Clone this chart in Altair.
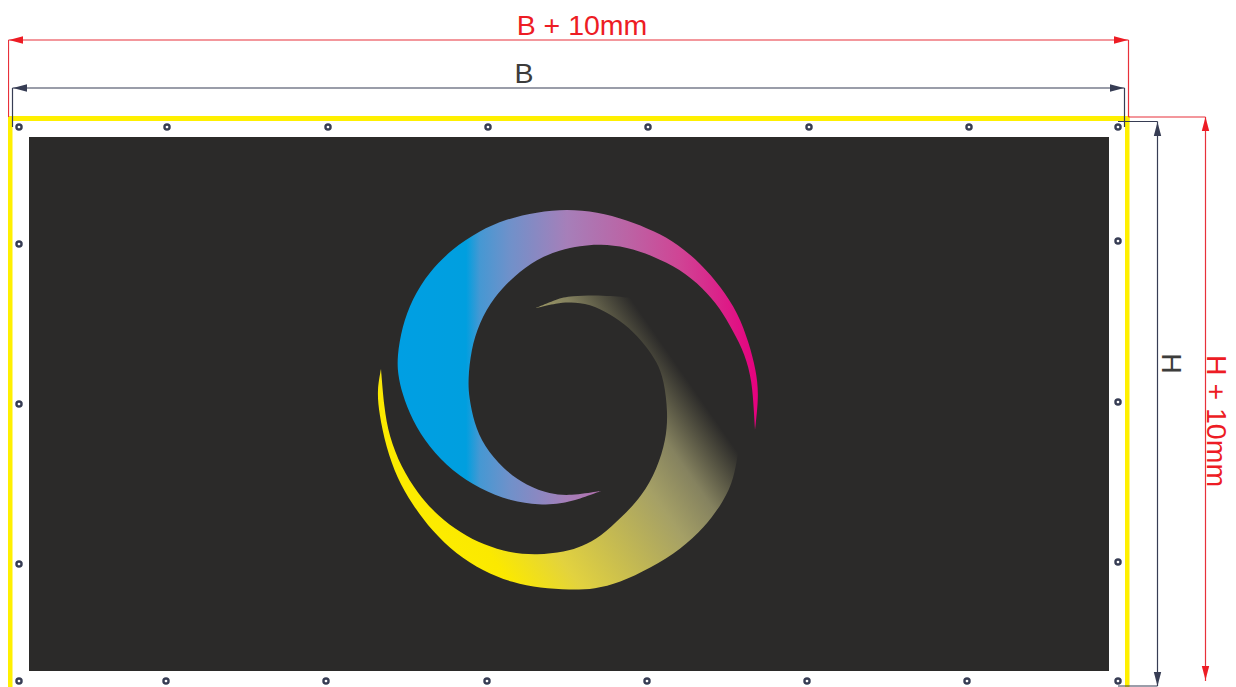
import altair as alt
import pandas as pd

# ---- crescent outlines (image pixels) ----
blue_x = [755,755,755,759,756,749,738,721,701,678,654,627,597,567,537,506,479,452,429,412,402,397,398,402,412,429,452,480,510,540,560,580,601,601,601,
          570,550,527,503,484,474,469,468,471,479,494,514,537,560,580,600,627,653,680,703,720,733,745,752,754,755,755,755]
blue_y = [430,430,430,395,370,343,313,287,264,244,231,220,212,209,212,219,231,249,272,299,327,357,375,393,420,447,471,489,501,505,504,499,491,491,491,
          496,494,486,469,446,423,397,380,350,323,297,276,259,250,246,244,247,256,269,288,308,331,354,381,413,430,430,430]

gold_x = [381,381,381,377,379,386,397,412,432,456,483,513,540,570,595,619,651,681,704,724,734,738,738,738,700,665,633,633,633,603,570,557,536,536,536,
          557,570,590,610,629,646,657,664,668,666,657,642,622,600,583,565,537,510,484,461,438,418,401,389,384,381,381,381]
gold_y = [369,369,369,390,413,447,478,504,531,554,571,583,588,590,589,583,568,549,528,501,478,453,453,453,390,345,298,298,298,295,296,299,308,308,308,
          303,302,304,314,327,346,362,380,413,440,469,496,517,537,546,552,555,553,545,533,516,494,467,436,407,369,369,369]

# ---- grommets ----
ring_x = [19,167,328,488,648,809,969,1118, 19,166,326,487,647,807,967,1118, 19,19,19, 1118,1118,1118]
ring_y = [127,127,127,127,127,127,127,127, 681,681,681,681,681,681,681,681, 244,404,564, 241,402,562]

# ---- frame and panel ----
panel = {"x": [29], "x2": [1109], "y": [137], "y2": [671]}
border_x  = [8, 1125, 8]
border_x2 = [12.5, 1129.5, 1129.5]
border_y  = [116, 116, 116]
border_y2 = [687, 687, 121]

# ---- dimension lines ----
red_x  = [8.5, 8.5, 1128.5, 1128.5, 1205.5]
red_x2 = [1128.5, 8.5, 1128.5, 1205.5, 1205.5]
red_y  = [40, 40, 40, 117, 117]
red_y2 = [40, 117, 117, 117, 681]

dark_x  = [12.5, 12.5, 1124.5, 1118, 1157.5, 1118]
dark_x2 = [1124.5, 12.5, 1124.5, 1157.5, 1157.5, 1157.5]
dark_y  = [88, 88, 88, 121.5, 121.5, 686]
dark_y2 = [88, 127, 127, 121.5, 686, 686]

LEFT, RIGHT = "M-1,0L1,-0.53L1,0.53Z", "M1,0L-1,-0.53L-1,0.53Z"
UP, DOWN = "M0,-1L-0.53,1L0.53,1Z", "M0,1L-0.53,-1L0.53,-1Z"
RED, DARK = "#ed1c24", "#373d54"
arrows = [
    (16, 40, LEFT, RED), (1121, 40, RIGHT, RED),
    (1205.5, 124, UP, RED), (1205.5, 673, DOWN, RED),
    (20, 88, LEFT, DARK), (1117, 88, RIGHT, DARK),
    (1157.5, 129, UP, DARK), (1157.5, 679, DOWN, DARK),
]

labels = [
    ("B + 10mm", 582, 26, 0, RED),
    ("B", 524, 74, 0, "#3c3c3b"),
    ("H", 1171, 363.5, 90, "#3c3c3b"),
    ("H + 10mm", 1216, 421, 90, RED),
]

X = lambda f: alt.X(f, type="quantitative", scale=alt.Scale(domain=[8, 1228], nice=False, zero=False), axis=None)
Y = lambda f: alt.Y(f, type="quantitative", scale=alt.Scale(domain=[687, 8], nice=False, zero=False), axis=None)


def rules(xs, x2s, ys, y2s, color, width):
    d = pd.DataFrame({"x": xs, "x2": x2s, "y": ys, "y2": y2s})
    return alt.Chart(d).mark_rule(color=color, strokeWidth=width).encode(
        x=X("x"), x2="x2", y=Y("y"), y2="y2")


def rects(xs, x2s, ys, y2s, color):
    d = pd.DataFrame({"x": xs, "x2": x2s, "y": ys, "y2": y2s})
    return alt.Chart(d).mark_rect(color=color).encode(
        x=X("x"), x2="x2", y=Y("y"), y2="y2")


def blob(xs, ys, gradient):
    d = pd.DataFrame({"x": xs, "y": ys, "i": range(len(xs))})
    return alt.Chart(d).mark_line(
        fill=gradient, filled=True, strokeWidth=0, interpolate="basis"
    ).encode(x=X("x"), y=Y("y"), order="i:Q")


blue_grad = alt.LinearGradient(
    gradient="linear", x1=0, y1=0.5, x2=1, y2=0.5,
    stops=[
        alt.GradientStop(offset=0, color="#009fe3"),
        alt.GradientStop(offset=0.19, color="#009fdf"),
        alt.GradientStop(offset=0.228, color="#4598d3"),
        alt.GradientStop(offset=0.31, color="#6f91ca"),
        alt.GradientStop(offset=0.47, color="#a67fb9"),
        alt.GradientStop(offset=0.636, color="#bb64a5"),
        alt.GradientStop(offset=0.78, color="#cf4595"),
        alt.GradientStop(offset=1, color="#e6007e"),
    ])
gold_grad = alt.LinearGradient(
    gradient="linear", x1=0, y1=1, x2=0.956, y2=0.457,
    stops=[
        alt.GradientStop(offset=0, color="#fff200"),
        alt.GradientStop(offset=0.30, color="#fbe900"),
        alt.GradientStop(offset=0.45, color="#e2d23f"),
        alt.GradientStop(offset=0.75, color="#a5a066"),
        alt.GradientStop(offset=0.86, color="#85825f"),
        alt.GradientStop(offset=1, color="#2b2a29"),
    ])

layers = [
    rects(panel["x"], panel["x2"], panel["y"], panel["y2"], "#2b2a29"),
    blob(blue_x, blue_y, blue_grad),
    blob(gold_x, gold_y, gold_grad),
    rects(border_x, border_x2, border_y, border_y2, "#fff000"),
    rules(red_x, red_x2, red_y, red_y2, "#e8303a", 1.2),
    rules(dark_x, dark_x2, dark_y, dark_y2, DARK, 1.2),
    alt.Chart(pd.DataFrame({"x": ring_x, "y": ring_y})).mark_point(
        shape="circle", size=26, filled=False, stroke=DARK, strokeWidth=2.4, opacity=1
    ).encode(x=X("x"), y=Y("y")),
]
for ax, ay, path, col in arrows:
    layers.append(
        alt.Chart(pd.DataFrame({"x": [ax], "y": [ay]})).mark_point(
            shape=path, size=196, filled=True, fill=col, strokeWidth=0, opacity=1
        ).encode(x=X("x"), y=Y("y"))
    )
for txt, tx, ty, ang, col in labels:
    layers.append(
        alt.Chart(pd.DataFrame({"x": [tx], "y": [ty], "t": [txt]})).mark_text(
            font="Liberation Sans", fontSize=28.5, color=col, angle=ang,
            align="center", baseline="middle"
        ).encode(x=X("x"), y=Y("y"), text="t:N")
    )

chart = alt.layer(*layers).properties(
    width=1220, height=679, padding=0,
    autosize=alt.AutoSizeParams(type="none"), background="white",
).configure_view(stroke=None)

chart.save("out.html", embed_options={"renderer": "svg", "actions": False})
